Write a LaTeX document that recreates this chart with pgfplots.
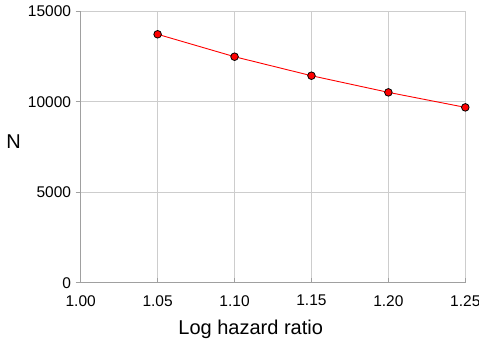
\documentclass[border=0pt]{standalone}
\usepackage{pgfplots}
\pgfplotsset{compat=1.18}
\usepackage{fontspec}
\setmainfont{Liberation Sans}
\definecolor{axgray}{RGB}{160,160,160}
\definecolor{gridgray}{RGB}{205,205,205}
\begin{document}
\begin{tikzpicture}
\useasboundingbox (-80.7bp,-58.3bp) rectangle (398.3bp,282.7bp);
\begin{axis}[
  at={(0,0)}, anchor=south west,
  scale only axis, width=384.6bp, height=271.4bp,
  xmin=1.0, xmax=1.25, ymin=0, ymax=15000,
  xtick={1.00,1.05,1.10,1.15,1.20,1.25},
  xticklabels={1.00,1.05,1.10,1.15,1.20,1.25},
  ytick={0,5000,10000,15000},
  yticklabels={0,5000,10000,15000},
  scaled ticks=false,
  axis lines=left,
  axis line style={draw=axgray, line width=1.3bp, -},
  grid=major,
  major grid style={draw=gridgray, line width=0.9bp},
  tick align=outside,
  major tick length=5bp,
  tick style={draw=axgray, line width=1bp},
  xtick style={yshift=5bp},
  tick label style={font=\fontsize{15.5bp}{16bp}\selectfont, text=black},
  yticklabel style={anchor=east, inner sep=0pt, xshift=-4.5bp},
  xticklabel style={anchor=north, inner sep=0pt, yshift=-7.3bp},
  xlabel={Log hazard ratio},
  ylabel={N},
  label style={font=\fontsize{20bp}{22bp}\selectfont},
  xlabel style={at={(axis description cs:0.442,0)}, anchor=base, yshift=-51.3bp},
  ylabel style={at={(axis description cs:-0.1747,0.518)}, rotate=-90, anchor=center},
  clip=false,
]
\addplot[red, line width=0.9bp, mark=*, mark size=3.8bp, mark options={fill=red, draw=black, line width=0.8bp}]
  coordinates {(1.05,13730) (1.10,12490) (1.15,11440) (1.20,10520) (1.25,9690)};
\end{axis}
\end{tikzpicture}
\end{document}
